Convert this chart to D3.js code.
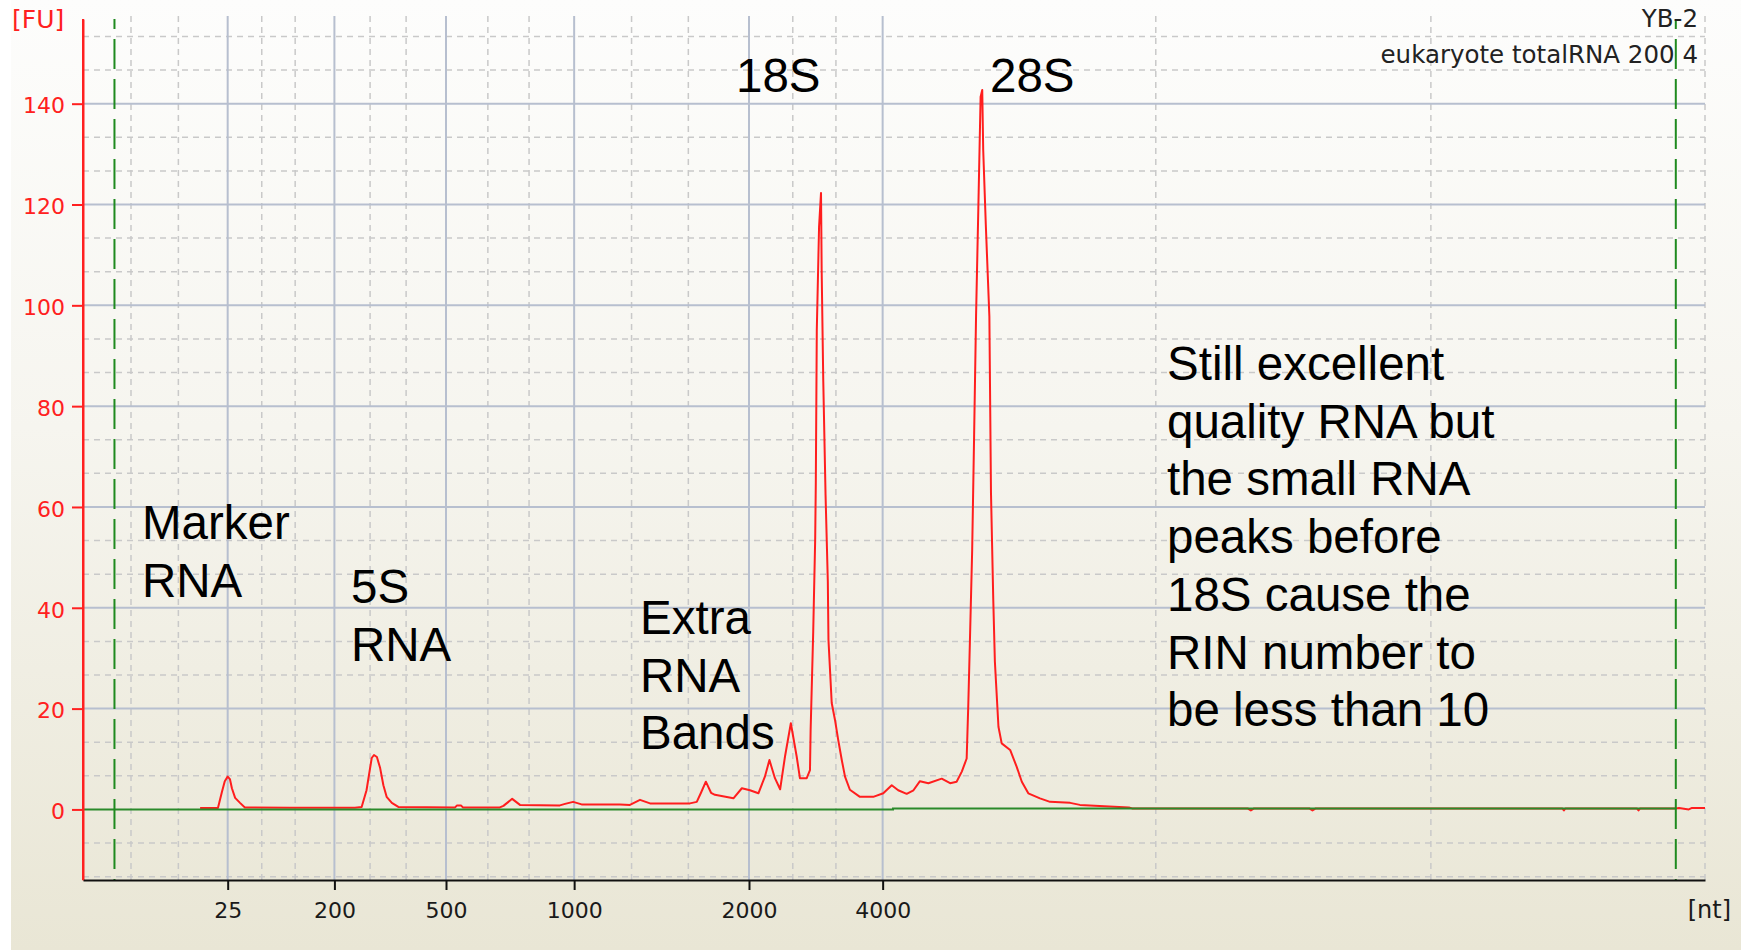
<!DOCTYPE html>
<html>
<head>
<meta charset="utf-8">
<script src="https://cdn.jsdelivr.net/npm/d3@7"></script>
<style>
html, body { margin: 0; padding: 0; background: #fff; overflow: hidden; }
</style>
</head>
<body>
<script>
// electropherogram: x is migration time in seconds, labelled by ladder size in nt
const ladderNt = [25, 200, 500, 1000, 2000, 4000];
const ladderTime = [23.46, 26.75, 30.19, 34.14, 39.53, 43.65];
const minorTime = [20.48, 21.94, 24.51, 25.54, 27.85, 28.96, 31.48, 32.75, 35.91, 37.66, 40.88, 42.21, 52.07, 60.55, 69.0];
const fuTicks = [0, 20, 40, 60, 80, 100, 120, 140];
const markerTime = [19.97, 68.1];

const traceTime = [22.61, 22.91, 23.16, 23.28, 23.37, 23.46, 23.53, 23.59, 23.69, 23.84,
    23.99, 25.38, 27.38, 27.59, 27.74, 27.90, 27.97, 28.06, 28.16, 28.26,
    28.36, 28.52, 28.72, 30.47, 30.53, 30.65, 30.71, 31.85, 31.96, 32.23,
    32.47, 33.70, 33.86, 34.11, 34.37, 35.55, 35.86, 36.17, 36.48, 37.71,
    37.92, 38.05, 38.20, 38.36, 38.48, 39.05, 39.31, 39.56, 39.82, 40.02,
    40.16, 40.33, 40.49, 40.64, 40.82, 41.00, 41.10, 41.31, 41.41, 41.43,
    41.51, 41.57, 41.59, 41.62, 41.69, 41.75, 41.77, 41.82, 41.89, 41.96,
    41.98, 42.08, 42.18, 42.28, 42.39, 42.49, 42.64, 42.95, 43.36, 43.67,
    43.93, 44.13, 44.39, 44.60, 44.80, 45.06, 45.47, 45.73, 45.93, 46.09,
    46.24, 46.29, 46.34, 46.41, 46.47, 46.53, 46.60, 46.67, 46.72, 46.75,
    46.83, 46.94, 46.99, 47.06, 47.11, 47.22, 47.32, 47.58, 47.78, 47.94,
    48.14, 48.50, 48.81, 49.43, 49.73, 51.24, 51.34,
    54.9, 55.0, 55.1, 56.8, 56.9, 57.0, 64.6, 64.65, 64.7, 66.9, 66.95, 67.0,
    68.1, 68.2, 68.5, 68.6, 68.7, 69.0];
const traceFU = [0.3, 0.3, 0.3, 3.4, 5.6, 6.5, 6.0, 4.2, 2.3, 1.3,
    0.4, 0.35, 0.35, 0.5, 3.8, 10.2, 10.8, 10.4, 8.2, 4.8,
    2.5, 1.3, 0.5, 0.4, 0.8, 0.8, 0.4, 0.4, 0.7, 2.1,
    0.9, 0.8, 1.1, 1.5, 1.0, 1.0, 0.9, 1.9, 1.2, 1.2,
    1.5, 3.3, 5.5, 3.3, 2.9, 2.2, 4.2, 3.8, 3.2, 6.5,
    9.8, 6.2, 4.0, 10.5, 17.1, 10.5, 6.2, 6.2, 7.8, 15.8,
    35.3, 53.5, 64.9, 95.1, 115.6, 122.3, 107.0, 84.9, 62.4, 45.2,
    33.6, 21.1, 17.8, 13.8, 9.8, 6.5, 3.9, 2.5, 2.5, 3.2,
    4.8, 3.8, 3.1, 3.8, 5.6, 5.2, 6.1, 5.2, 5.5, 7.5,
    10.1, 20.7, 33.3, 51.5, 74.3, 98.1, 119.3, 141.4, 142.7, 130.8,
    116.0, 97.8, 62.7, 41.6, 29.3, 16.4, 13.1, 11.8, 8.5, 5.5,
    3.2, 2.2, 1.5, 1.3, 0.9, 0.4, 0.2,
    0.2, -0.2, 0.2, 0.2, -0.2, 0.2, 0.2, -0.2, 0.2, 0.2, -0.2, 0.2,
    0.2, 0.3, 0.0, 0.3, 0.3, 0.3];

const baselineTime = [19, 43.97, 43.97, 68.1];
const baselineFU = [0, 0, 0.2, 0.2];

const W = 1741, H = 950;
const plot = { left: 83, right: 1705, top: 19, bottom: 880 };

const svg = d3.select("body").append("svg")
    .attr("width", W)
    .attr("height", H);

const defs = svg.append("defs");
const grad = defs.append("linearGradient")
    .attr("id", "bg")
    .attr("x1", 0).attr("y1", 0).attr("x2", 0).attr("y2", 1);
grad.append("stop").attr("offset", "0%").attr("stop-color", "#fdfdfc");
grad.append("stop").attr("offset", "45%").attr("stop-color", "#f6f5ef");
grad.append("stop").attr("offset", "100%").attr("stop-color", "#e9e6d5");

svg.append("rect").attr("width", W).attr("height", H).attr("fill", "#fff");
svg.append("rect")
    .attr("x", 11).attr("y", 0)
    .attr("width", W - 11).attr("height", H)
    .attr("fill", "url(#bg)");

const x = d3.scaleLinear().domain([19, 69]).range([plot.left, plot.right]);
const y = d3.scaleLinear().domain([-14, 156.8]).range([plot.bottom, plot.top]);

// grid
const grid = svg.append("g");
const fuStep = fuTicks[1] - fuTicks[0];
const fuMinor = d3.range(-2, 24).map(k => k * fuStep / 3).filter(v => v % fuStep !== 0 && y(v) < plot.bottom && y(v) > plot.top);

grid.selectAll(".hminor").data(fuMinor).join("line")
    .attr("x1", plot.left).attr("x2", plot.right)
    .attr("y1", d => y(d)).attr("y2", d => y(d))
    .attr("stroke", "#c9c9c9").attr("stroke-width", 1.5)
    .attr("stroke-dasharray", "6,5");

grid.selectAll(".vminor").data(minorTime).join("line")
    .attr("x1", d => x(d)).attr("x2", d => x(d))
    .attr("y1", 16).attr("y2", plot.bottom)
    .attr("stroke", "#c9c9c9").attr("stroke-width", 1.5)
    .attr("stroke-dasharray", "6,5");

grid.selectAll(".hmajor").data(fuTicks.slice(1)).join("line")
    .attr("x1", plot.left).attr("x2", plot.right)
    .attr("y1", d => y(d)).attr("y2", d => y(d))
    .attr("stroke", "#b7bfcf").attr("stroke-width", 2);

grid.selectAll(".vmajor").data(ladderTime).join("line")
    .attr("x1", d => x(d)).attr("x2", d => x(d))
    .attr("y1", 16).attr("y2", plot.bottom)
    .attr("stroke", "#b7bfcf").attr("stroke-width", 2);

// trace
const line = d3.line()
    .x(d => x(d[0]))
    .y(d => y(d[1]));

svg.append("path")
    .datum(d3.zip(traceTime, traceFU))
    .attr("fill", "none")
    .attr("stroke", "#ff1e1e")
    .attr("stroke-width", 2)
    .attr("stroke-linejoin", "round")
    .attr("d", line);

svg.append("path")
    .datum(d3.zip(baselineTime, baselineFU))
    .attr("fill", "none")
    .attr("stroke", "#2a8a2a")
    .attr("stroke-width", 2)
    .attr("d", line);

// marker lines
svg.selectAll(".marker").data(markerTime).join("line")
    .attr("x1", d => x(d)).attr("x2", d => x(d))
    .attr("y1", plot.top).attr("y2", plot.bottom)
    .attr("stroke", "#1f8a1f").attr("stroke-width", 2)
    .attr("stroke-dasharray", "30,10")
    .attr("stroke-dashoffset", 20);

// axes
const tickFont = "'DejaVu Sans', Verdana, sans-serif";

const yAxis = svg.append("g")
    .attr("transform", `translate(${plot.left},0)`)
    .call(d3.axisLeft(y).tickValues(fuTicks).tickSize(11).tickSizeOuter(0).tickPadding(7));
yAxis.select(".domain").attr("stroke", "#ff2020").attr("stroke-width", 2);
yAxis.selectAll(".tick line").attr("stroke", "#ff2020").attr("stroke-width", 2);
yAxis.selectAll(".tick text")
    .attr("fill", "#ff2020")
    .attr("dy", "0.42em")
    .style("font-family", tickFont)
    .style("font-size", "22px");

const xAxis = svg.append("g")
    .attr("transform", `translate(0,${plot.bottom})`)
    .call(d3.axisBottom(x).tickValues(ladderTime).tickFormat((d, i) => ladderNt[i])
        .tickSize(10).tickSizeOuter(0).tickPadding(12));
xAxis.select(".domain").attr("stroke", "#111").attr("stroke-width", 2);
xAxis.selectAll(".tick line").attr("stroke", "#111").attr("stroke-width", 2);
xAxis.selectAll(".tick text")
    .attr("fill", "#1a1a1a")
    .style("font-family", tickFont)
    .style("font-size", "22px");

svg.append("line")
    .attr("x1", plot.left).attr("x2", plot.left)
    .attr("y1", plot.top).attr("y2", plot.bottom)
    .attr("stroke", "#ff2020").attr("stroke-width", 2);

svg.append("text")
    .attr("x", 12).attr("y", 28)
    .attr("fill", "#ff2020")
    .style("font-family", tickFont)
    .style("font-size", "25px")
    .text("[FU]");

svg.append("text")
    .attr("x", 1731).attr("y", 918)
    .attr("text-anchor", "end")
    .attr("fill", "#1a1a1a")
    .style("font-family", tickFont)
    .style("font-size", "24px")
    .text("[nt]");

svg.append("text")
    .attr("x", 1698).attr("y", 27)
    .attr("text-anchor", "end")
    .attr("fill", "#222")
    .style("font-family", tickFont)
    .style("font-size", "24.5px")
    .text("YB-2");

svg.append("text")
    .attr("x", 1698).attr("y", 63)
    .attr("text-anchor", "end")
    .attr("fill", "#222")
    .style("font-family", tickFont)
    .style("font-size", "24.5px")
    .text("eukaryote totalRNA 200 4");

// annotations
const notes = [
    { lines: ["18S"], x: 736, y: 92 },
    { lines: ["28S"], x: 990, y: 92 },
    { lines: ["Marker", "RNA"], x: 142, y: 539 },
    { lines: ["5S", "RNA"], x: 351, y: 603 },
    { lines: ["Extra", "RNA", "Bands"], x: 640, y: 634 },
    { lines: ["Still excellent", "quality RNA but", "the small RNA", "peaks before",
              "18S cause the", "RIN number to", "be less than 10"], x: 1167, y: 380 }
];

notes.forEach(n => {
    const t = svg.append("text")
        .attr("x", n.x).attr("y", n.y)
        .attr("fill", "#000")
        .style("font-family", "'Liberation Sans', Arial, sans-serif")
        .style("font-size", "47.5px");
    n.lines.forEach((s, i) => {
        t.append("tspan")
            .attr("x", n.x)
            .attr("dy", i === 0 ? 0 : 57.7)
            .text(s);
    });
});
</script>
</body>
</html>
